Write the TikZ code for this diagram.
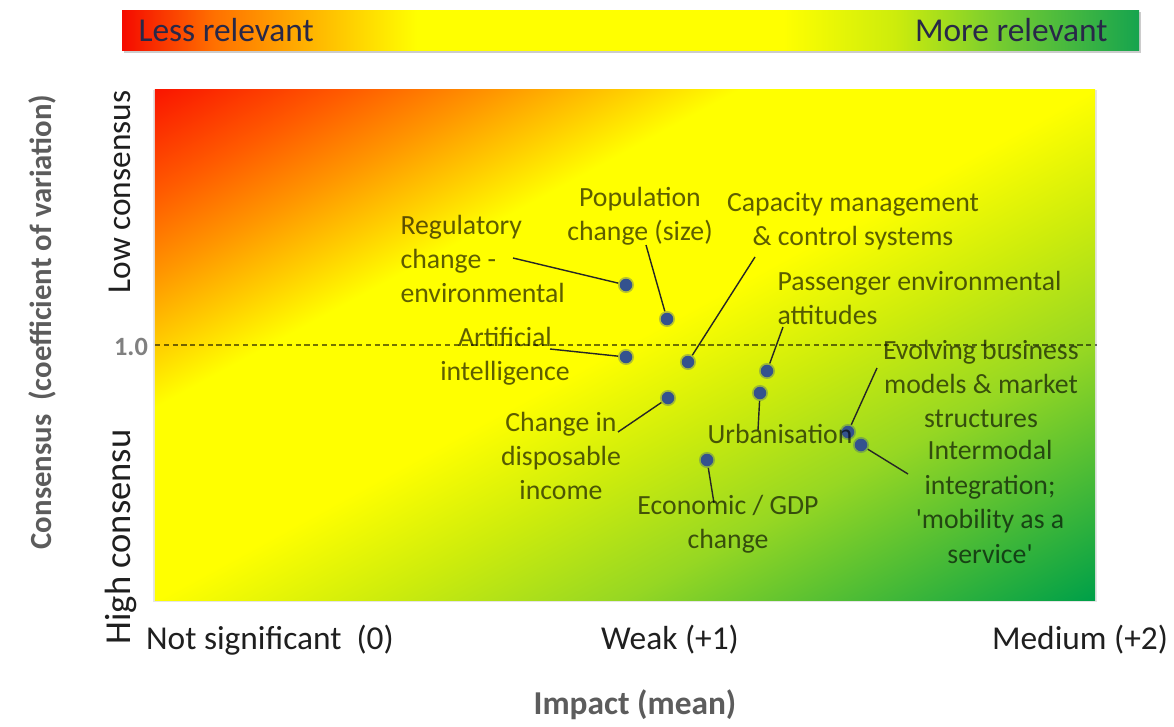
\documentclass[tikz,border=0pt]{standalone}
\usepackage{fontspec}
\setmainfont{Carlito}
\usetikzlibrary{positioning}

\definecolor{redA}{RGB}{250,22,0}
\definecolor{redB}{RGB}{255,90,0}
\definecolor{orangeA}{RGB}{255,150,0}
\definecolor{goldA}{RGB}{255,205,0}
\definecolor{yellowA}{RGB}{255,255,0}
\definecolor{limeA}{RGB}{205,236,12}
\definecolor{limeB}{RGB}{150,215,35}
\definecolor{greenA}{RGB}{0,160,72}
\definecolor{barred}{RGB}{245,10,0}
\definecolor{barorange}{RGB}{255,112,0}
\definecolor{bargreen}{RGB}{22,164,78}
\definecolor{midgreen}{RGB}{112,202,50}
\definecolor{navytext}{RGB}{40,40,72}
\definecolor{dotblue}{RGB}{52,82,142}
\definecolor{titlegray}{RGB}{92,92,92}

% diagonal field, red top left to green bottom right
\pgfdeclarehorizontalshading{relevance}{100bp}{
  color(0bp)=(redA); color(14.6bp)=(redA); color(21.7bp)=(redB);
  color(27.4bp)=(orangeA); color(32.3bp)=(goldA); color(36.6bp)=(yellowA);
  color(50bp)=(yellowA); color(58.5bp)=(limeA); color(67.7bp)=(limeB);
  color(85.4bp)=(greenA); color(100bp)=(greenA)}
% top bar
\pgfdeclarehorizontalshading{relevancebar}{100bp}{
  color(0bp)=(barred); color(25bp)=(barred); color(29.5bp)=(barorange);
  color(36bp)=(goldA); color(39.5bp)=(yellowA); color(57.5bp)=(yellowA);
  color(63bp)=(limeA); color(68.5bp)=(midgreen); color(75bp)=(bargreen);
  color(100bp)=(bargreen)}

\begin{document}
\begin{tikzpicture}[
                        x = 0.02cm,
                        y = -0.02cm,
                        semithick
                        ]

                        \tikzstyle{point}=[
                                circle,
                                fill = dotblue,
                                draw = dotblue,
                                draw opacity = 0.35,
                                line width = 2pt,
                                inner sep = 0pt,
                                minimum size = 0.25cm
                        ]
                        \tikzstyle{tag}=[
                                font = \fontsize{15.8}{19.6}\selectfont,
                                text = black,
                                text opacity = 0.63,
                                inner sep = 0pt,
                                align = center
                        ]
                        \tikzstyle{axis}=[
                                font = \fontsize{19}{22}\selectfont,
                                text = black!88,
                                inner sep = 0pt
                        ]
                        \tikzstyle{title}=[
                                font = \fontsize{17.5}{21}\selectfont\bfseries,
                                text = titlegray,
                                inner sep = 0pt
                        ]
                        \tikzstyle{link}=[
                                draw = black!85,
                                line width = 0.8pt
                        ]

                        \useasboundingbox[fill = white] (0,0) rectangle (1174,727);

                        % bar and field
                        \fill[black!20] (124,12) rectangle (1141,53);
                        \shade[shading = relevancebar] (122,10) rectangle (1139,50);
                        \fill[black!10] (153,90) rectangle (1097,602);
                        \begin{scope}[transform canvas = {xscale = 1.83953}]
                                \shade[shading = relevance, shading angle = -45] (84.26,89) rectangle (595.26,600);
                        \end{scope}
                        \draw[black, opacity = 0.55, line width = 0.8pt, dash pattern = on 3pt off 2pt] (155,345) -- (1097,345);

                        \node[font = \fontsize{19}{22}\selectfont, text = navytext, anchor = west, inner sep = 0pt] (less) at (138,30) {Less relevant};
                        \node[font = \fontsize{19}{22}\selectfont, text = navytext, anchor = east, inner sep = 0pt] (more) at (1108,30) {More relevant};

                        % axes
                        \node[axis, rotate = 90] (low) at (120,192) {Low consensus};
                        \node[axis, rotate = 90, font = \fontsize{20.8}{24}\selectfont] (high) at (121,537) {High consensu};
                        \node[title, rotate = 90] (cons) at (42,322) {Consensus\ \ (coefficient of variation)};
                        \node[title, font = \fontsize{15}{18}\selectfont\bfseries, text = black!50] (one) at (131,347) {1.0};
                        \node[axis] (x0) at (270,640) {Not significant\ \ (0)};
                        \node[axis] (x1) at (670,640) {Weak (+1)};
                        \node[axis] (x2) at (1080,640) {Medium (+2)};
                        \node[title, font = \fontsize{19}{22}\selectfont\bfseries] (imp) at (635,705) {Impact (mean)};

                        % drivers
                        \node[point] (1) at (626,285) {};
                        \node[point] (2) at (667,319) {};
                        \node[point] (3) at (688,362) {};
                        \node[point] (4) at (767,371) {};
                        \node[point] (5) at (626,357) {};
                        \node[point] (6) at (668,398) {};
                        \node[point] (7) at (760,393) {};
                        \node[point] (8) at (848,432) {};
                        \node[point] (9) at (861,445) {};
                        \node[point] (10) at (707,460) {};

                        \coordinate (c1) at (513,258);
                        \coordinate (c2) at (646,245);
                        \coordinate (c3) at (755,257);
                        \coordinate (c4) at (783,327);
                        \coordinate (c5) at (550,349);
                        \coordinate (c6) at (618,432);
                        \coordinate (c7) at (758,430);
                        \coordinate (c8) at (877,368);
                        \coordinate (c9) at (908,474);
                        \coordinate (c10) at (714,503);

                        \draw[link] (c1) -- (1);
                        \draw[link] (c2) -- (2);
                        \draw[link] (c3) -- (3);
                        \draw[link] (c4) -- (4);
                        \draw[link] (c5) -- (5);
                        \draw[link] (c6) -- (6);
                        \draw[link] (c7) -- (7);
                        \draw[link] (c8) -- (8);
                        \draw[link] (c9) -- (9);
                        \draw[link] (c10) -- (10);

                        \node[tag, anchor = west, align = left] (t1) at (400,259) {Regulatory\\change -\\environmental};
                        \node[tag] (t2) at (640,216) {Population\\change (size)};
                        \node[tag] (t3) at (853,221) {Capacity management\\\& control systems};
                        \node[tag, anchor = west, align = left] (t4) at (777,298) {Passenger environmental\\attitudes};
                        \node[tag] (t5) at (505,356) {Artificial\\intelligence};
                        \node[tag] (t6) at (561,456) {Change in\\disposable\\income};
                        \node[tag] (t7) at (780,434) {Urbanisation};
                        \node[tag] (t8) at (981,384) {Evolving business\\models \& market\\structures};
                        \node[tag] (t9) at (990,502) {Intermodal\\integration;\\\textquotesingle mobility as a\\service\textquotesingle};
                        \node[tag] (t10) at (728,524) {Economic / GDP\\change};
                \end{tikzpicture}
\end{document}
